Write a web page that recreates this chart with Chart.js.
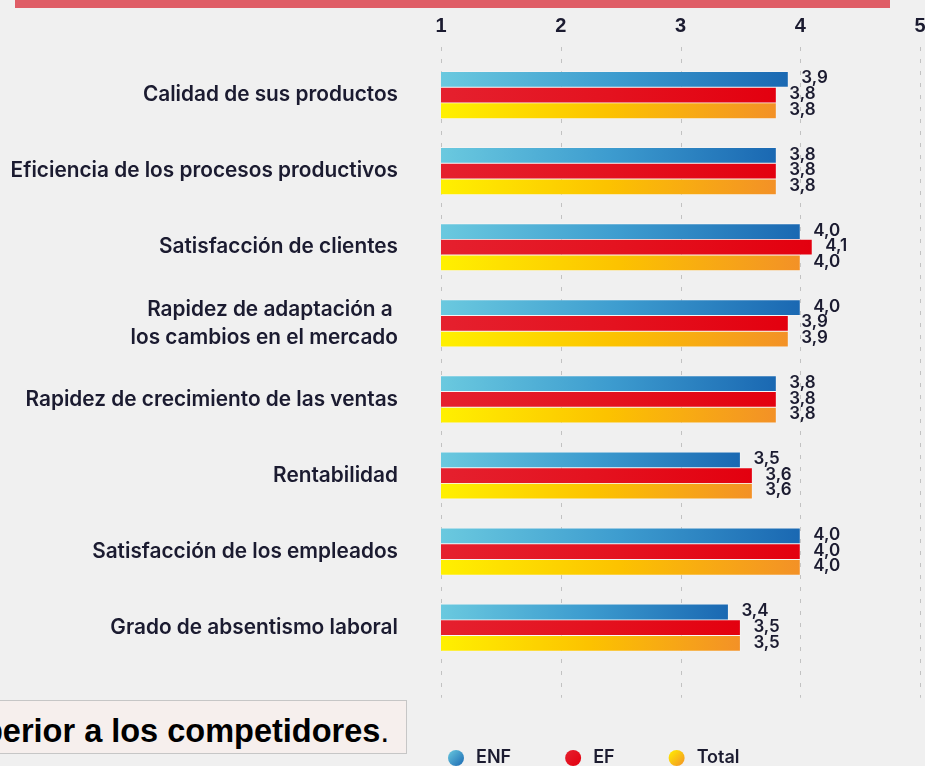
<!DOCTYPE html>
<html><head><meta charset="utf-8">
<script src="https://cdn.jsdelivr.net/npm/chart.js@4.4.1/dist/chart.umd.min.js"></script>
<style>
html,body{margin:0;padding:0;background:#f0f0f0;width:925px;height:766px;overflow:hidden;}
#topbar{position:absolute;left:15px;top:0;width:875px;height:8px;background:#df5d66;}
#wrap{position:absolute;left:0;top:0;width:960px;height:766px;}
#note{position:absolute;left:0;top:700px;width:406px;height:52px;background:#f6efed;border:1px solid #c6c6c6;border-left:none;overflow:hidden;}
#note span{position:absolute;left:-17px;top:14px;white-space:nowrap;font:normal 32.5px/32px "Liberation Sans",Arial,sans-serif;color:#000;}
#note b{font-weight:bold;}
</style></head>
<body>
<div id="topbar"></div>
<div id="wrap"><canvas id="c" width="960" height="766"></canvas></div>
<div id="note"><span><b>perior a los competidores</b>.</span></div>
<script>
// ---- data ----
const categories = [
  'Calidad de sus productos',
  'Eficiencia de los procesos productivos',
  'Satisfacción de clientes',
  ['Rapidez de adaptación a ', 'los cambios en el mercado'],
  'Rapidez de crecimiento de las ventas',
  'Rentabilidad',
  'Satisfacción de los empleados',
  'Grado de absentismo laboral'
];
const seriesNames = ['ENF', 'EF', 'Total'];
const enfValues   = [3.9, 3.8, 4.0, 4.0, 3.8, 3.5, 4.0, 3.4];
const efValues    = [3.8, 3.8, 4.1, 3.9, 3.8, 3.6, 4.0, 3.5];
const totalValues = [3.8, 3.8, 4.0, 3.9, 3.8, 3.6, 4.0, 3.5];
const tickLabels  = ['1', '2', '3', '4', '5'];

// ---- styles ----
const TEXT = '#1b1b30';
const blueStops   = ['#6ac9df', '#3d9ccf', '#1a68b2'];
const redStops    = ['#e5202e', '#e4121f', '#e3000f'];
const yellowStops = ['#fff000', '#fcc200', '#f39127'];

const canvas = document.getElementById('c');
const mctx = canvas.getContext('2d');
function fitSize(text, weight, target) {
  mctx.font = weight + ' 100px Inter';
  return Math.round(100 * target / mctx.measureText(text).width * 10) / 10;
}
const catFont = fitSize('Eficiencia de los procesos productivos', '600', 388);
const valFont = 17;
const legFont = 18;

function barGradient(stops) {
  return function (c) {
    const chart = c.chart;
    const xs = chart.scales && chart.scales.x;
    if (!xs || c.raw == null) return stops[1];
    const x0 = xs.getPixelForValue(xs.min);
    const x1 = xs.getPixelForValue(c.raw);
    if (!isFinite(x0) || !isFinite(x1) || x1 <= x0) return stops[1];
    const g = chart.ctx.createLinearGradient(x0, 0, x1, 0);
    stops.forEach((s, i) => g.addColorStop(i / (stops.length - 1), s));
    return g;
  };
}

const dashedGrid = {
  id: 'dashedGrid',
  beforeDatasetsDraw(chart) {
    const { ctx, chartArea } = chart;
    const xs = chart.scales.x;
    ctx.save();
    ctx.strokeStyle = '#c2c2c2';
    ctx.lineWidth = 1;
    ctx.setLineDash([4, 8]);
    xs.ticks.forEach(t => {
      const x = Math.round(xs.getPixelForValue(t.value)) + 0.5;
      ctx.beginPath();
      ctx.moveTo(x, chartArea.top - 10);
      ctx.lineTo(x, chartArea.bottom + 32);
      ctx.stroke();
    });
    ctx.restore();
  }
};

const valueLabels = {
  id: 'valueLabels',
  afterDatasetsDraw(chart) {
    const { ctx } = chart;
    ctx.save();
    ctx.font = '600 ' + valFont + 'px Inter';
    ctx.fillStyle = TEXT;
    ctx.textAlign = 'left';
    ctx.textBaseline = 'middle';
    chart.data.datasets.forEach((ds, i) => {
      chart.getDatasetMeta(i).data.forEach((el, j) => {
        ctx.fillText(ds.data[j].toFixed(1).replace('.', ','), el.x + 13, el.y - 1);
      });
    });
    ctx.restore();
  }
};

const customLegend = {
  id: 'customLegend',
  afterDraw(chart) {
    const { ctx } = chart;
    const xs = chart.scales.x;
    const allStops = [blueStops, redStops, yellowStops];
    let x = xs.getPixelForValue(xs.min) + 7;
    const y = 758;
    const r = 8;
    ctx.save();
    ctx.font = '600 ' + legFont + 'px Inter';
    ctx.textBaseline = 'middle';
    ctx.textAlign = 'left';
    chart.data.datasets.forEach((ds, i) => {
      const st = allStops[i];
      const g = ctx.createLinearGradient(x, y - r, x + 2 * r, y + r);
      g.addColorStop(0, st[0]);
      g.addColorStop(1, st[2]);
      ctx.fillStyle = g;
      ctx.beginPath();
      ctx.arc(x + r, y, r, 0, Math.PI * 2);
      ctx.fill();
      const tx = x + 2 * r + 12;
      ctx.fillStyle = TEXT;
      ctx.fillText(ds.label, tx, y);
      x = tx + ctx.measureText(ds.label).width + 54;
    });
    ctx.restore();
  }
};

new Chart(canvas, {
  type: 'bar',
  data: {
    labels: categories,
    datasets: [
      { label: seriesNames[0], data: enfValues,   backgroundColor: barGradient(blueStops) },
      { label: seriesNames[1], data: efValues,    backgroundColor: barGradient(redStops) },
      { label: seriesNames[2], data: totalValues, backgroundColor: barGradient(yellowStops) }
    ]
  },
  options: {
    indexAxis: 'y',
    responsive: false,
    animation: false,
    devicePixelRatio: 1,
    layout: { padding: { left: 0, right: 40, top: 0, bottom: 100.25 } },
    datasets: { bar: { barThickness: 15.7, borderWidth: 0.8, borderColor: 'rgba(255,255,255,0.35)', borderSkipped: false } },
    plugins: { legend: { display: false }, tooltip: { enabled: false } },
    scales: {
      x: {
        position: 'top',
        min: 1, max: 5,
        beginAtZero: false,
        border: { display: false },
        grid: { display: false, drawTicks: false },
        ticks: {
          stepSize: 1,
          padding: 19,
          color: TEXT,
          font: { family: '"Liberation Sans", Arial, sans-serif', size: 20, weight: 'bold' },
          callback: (v) => tickLabels[v - 1]
        },
        afterFit: (s) => { s.height = 53.75; }
      },
      y: {
        border: { display: false },
        grid: { display: false, drawTicks: false },
        ticks: {
          padding: 43,
          color: TEXT,
          font: { family: 'Inter, sans-serif', size: catFont, weight: '600', lineHeight: 28 / catFont }
        },
        afterFit: (s) => { s.width = 441; }
      }
    }
  },
  plugins: [dashedGrid, valueLabels, customLegend]
});
</script>
</body></html>
